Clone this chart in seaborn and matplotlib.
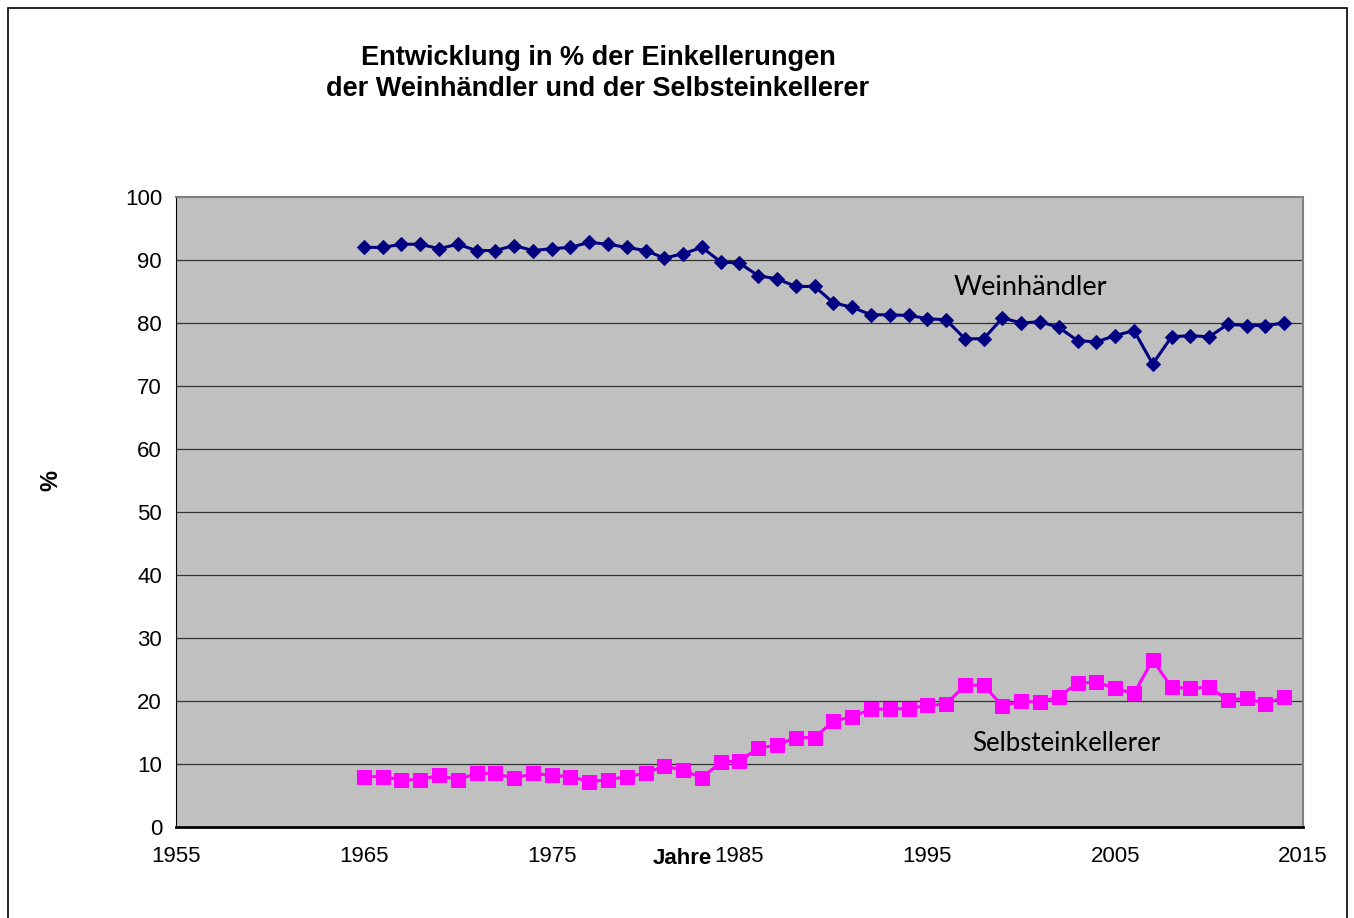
import numpy as np
import pandas as pd
import matplotlib
matplotlib.use("Agg")
import matplotlib.pyplot as plt
import seaborn as sns
from matplotlib.patches import Rectangle

years = list(range(1965, 2015))
weinhaendler = [92.0, 92.0, 92.5, 92.5, 91.8, 92.5, 91.5, 91.5, 92.3, 91.5,
                91.8, 92.0, 92.8, 92.5, 92.0, 91.5, 90.3, 91.0, 92.0, 89.7,
                89.5, 87.5, 87.0, 85.8, 85.8, 83.2, 82.5, 81.3, 81.3, 81.2,
                80.7, 80.5, 77.5, 77.5, 80.8, 80.0, 80.2, 79.3, 77.2, 77.0,
                78.0, 78.8, 73.5, 77.8, 78.0, 77.8, 79.8, 79.6, 79.6, 80.0]
selbst = [8.0, 8.0, 7.5, 7.5, 8.2, 7.5, 8.5, 8.5, 7.7, 8.5,
          8.2, 8.0, 7.2, 7.5, 8.0, 8.5, 9.7, 9.0, 7.8, 10.3,
          10.5, 12.5, 13.0, 14.2, 14.2, 16.8, 17.5, 18.7, 18.7, 18.8,
          19.3, 19.5, 22.5, 22.5, 19.2, 20.0, 19.8, 20.7, 22.8, 23.0,
          22.0, 21.2, 26.5, 22.2, 22.0, 22.2, 20.2, 20.4, 19.6, 20.6]
xticks = [1955, 1965, 1975, 1985, 1995, 2005, 2015]
yticks = [0, 10, 20, 30, 40, 50, 60, 70, 80, 90, 100]

df = pd.DataFrame({"Jahr": years, "Weinhändler": weinhaendler, "Selbsteinkellerer": selbst})

sns.set_style("white")
plt.rcParams["font.family"] = ["Liberation Sans", "DejaVu Sans"]
plt.rcParams["text.color"] = "black"
plt.rcParams["axes.labelcolor"] = "black"
plt.rcParams["xtick.color"] = "black"
plt.rcParams["ytick.color"] = "black"

fig = plt.figure(figsize=(13.54, 9.18), dpi=100)
ax = fig.add_axes([176/1354, 1-827/918, 1127/1354, 630/918])
ax.set_facecolor("#C0C0C0")

sns.lineplot(data=df, x="Jahr", y="Weinhändler", ax=ax, color="#000080", marker="D",
             markersize=7.5, markeredgecolor="#000080", linewidth=2.2, zorder=3)
sns.lineplot(data=df, x="Jahr", y="Selbsteinkellerer", ax=ax, color="#FF00FF", marker="s",
             markersize=10.5, markeredgecolor="#FF00FF", linewidth=2.2, zorder=3)

ax.set_xlim(1955, 2015)
ax.set_ylim(0, 100)
ax.set_xticks(xticks)
ax.set_yticks(yticks)
ax.tick_params(axis="both", labelsize=16, direction="out", length=5, width=1, color="black")
ax.tick_params(axis="x", pad=9)
ax.tick_params(axis="y", pad=5)
for y in yticks[1:-1]:
    ax.axhline(y, color="#333333", linewidth=0.9, zorder=1)
for s in ["top", "right"]:
    ax.spines[s].set_color("#808080")
    ax.spines[s].set_linewidth(1.5)
ax.spines["left"].set_color("black")
ax.spines["bottom"].set_color("black")
ax.spines["bottom"].set_linewidth(2)

ax.set_xlabel("Jahre", fontsize=16, fontweight="bold")
ax.xaxis.set_label_coords((682-176)/1127, -21/630)
ax.set_ylabel("%", fontsize=17, fontweight="bold")
ax.yaxis.set_label_coords(-(176-62)/1127, 0.55)

ax.text(1996.4, 85.6, "Weinhändler", fontsize=19.5, family=["Lato", "DejaVu Sans"],
        ha="left", va="center")
ax.text(1997.4, 13.2, "Selbsteinkellerer", fontsize=18.5, family=["Lato", "DejaVu Sans"],
        ha="left", va="center")

fig.text(598/1354, 1-58/918, "Entwicklung in % der Einkellerungen", fontsize=19.5,
         fontweight="bold", ha="center", va="center")
fig.text(598/1354, 1-89/918, "der Weinhändler und der Selbsteinkellerer", fontsize=19.5,
         fontweight="bold", ha="center", va="center")

fig.patches.append(Rectangle((8/1354, -0.01), 1339/1354, 1.01-8/918, transform=fig.transFigure,
                             fill=False, edgecolor="black", linewidth=1.2))

fig.savefig("out.png", dpi=100)
